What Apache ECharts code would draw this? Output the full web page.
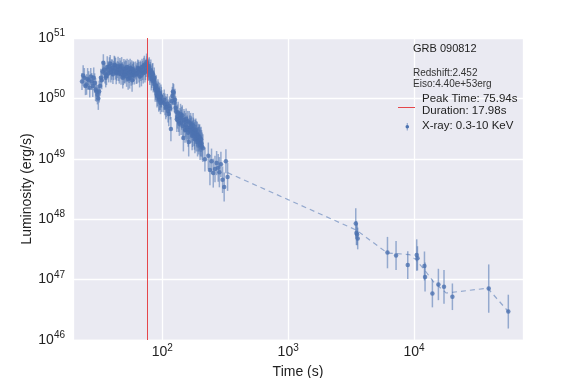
<!DOCTYPE html>
<html>
<head>
<meta charset="utf-8">
<script src="https://cdn.jsdelivr.net/npm/echarts@6/dist/echarts.min.js"></script>
<style>
  html, body { margin: 0; padding: 0; background: #fff; }
  #chart { width: 581px; height: 378px; }
</style>
</head>
<body>
<div id="chart"></div>
<script>
// light curve points (time in s, luminosity in erg/s, error in dex)
const time = [
  23, 24, 25, 26, 27, 28, 29, 30, 31, 32, 33, 34, 35, 36, 37, 38, 39, 40, 41, 42,
  43, 44, 45, 46, 47, 48, 49, 50, 51, 52, 53, 54, 55, 56, 57, 58, 59, 60,
  61.5, 63, 64.5, 66, 67.5, 69, 70.5, 72, 73.5, 75, 76.5, 78, 79.5, 81, 82.5, 84,
  85.5, 87, 88.5, 90, 91.5, 93, 94.5, 96, 97.5, 99,
  102, 105, 108, 111, 114, 117, 120, 123, 126, 129, 132, 135, 138, 141, 144, 147,
  150, 153, 156, 159, 162, 165, 168, 171, 174, 177, 180, 183, 186, 189, 192, 195,
  198, 201, 205, 210,
  218, 232, 239, 246, 254, 262, 270, 278, 284, 292, 301, 310, 320, 330,
  3443, 3485, 3530, 3567, 6150, 7197, 8913, 10500, 10640, 12100, 12230, 13990,
  15610, 17300, 20170, 39200, 56100,
  // interleaved bins of the bright part
  23.5, 24.5, 25.5, 26.5, 27.5, 28.5, 29.5, 30.5, 31.5, 32.5, 33.5, 34.5, 35.5,
  36.5, 37.5, 38.5, 39.5, 40.5, 41.5, 42.5, 43.5, 44.5, 45.5, 46.5, 47.5, 48.5,
  49.5, 50.5, 51.5, 52.5, 53.5, 54.5, 55.5, 56.5, 57.5, 58.5, 59.5,
  62.25, 63.75, 65.25, 66.75, 68.25, 69.75, 71.25, 72.75, 74.25, 75.75, 77.25,
  78.75, 80.25, 81.75, 83.25, 84.75, 86.25, 87.75, 89.25, 90.75, 92.25, 93.75,
  95.25, 96.75, 98.25,
  103.5, 106.5, 109.5, 112.5, 115.5, 118.5, 121.5, 124.5, 127.5, 130.5, 133.5,
  136.5, 139.5, 142.5, 145.5, 148.5, 151.5, 154.5, 157.5, 160.5, 163.5, 166.5,
  169.5, 172.5, 175.5, 178.5, 181.5, 184.5, 187.5, 190.5, 193.5, 196.5, 199.5,
  203, 207
];
const lum = [
  1.9e50, 2.2e50, 1.7e50, 2.0e50, 2.3e50, 1.6e50, 1.8e50, 1.3e50, 1.0e50, 1.6e50,
  2.0e50, 3.9e50, 2.6e50, 2.4e50, 3.0e50, 3.4e50, 2.7e50, 3.2e50, 2.9e50, 3.5e50,
  2.6e50, 3.0e50, 2.8e50, 3.3e50, 2.5e50, 2.9e50, 2.4e50, 2.7e50, 3.1e50, 2.3e50,
  2.6e50, 3.0e50, 2.2e50, 2.8e50, 3.1e50, 2.5e50, 2.7e50, 2.4e50,
  2.9e50, 2.6e50, 3.1e50, 2.3e50, 2.8e50, 3.3e50, 2.6e50, 3.6e50, 2.9e50, 4.0e50,
  3.3e50, 3.0e50, 2.4e50, 2.9e50, 2.2e50, 2.5e50, 2.0e50, 1.7e50, 1.5e50, 1.3e50,
  1.15e50, 1.25e50, 1.0e50, 9.5e49, 1.1e50, 9.0e49,
  8.5e49, 8.0e49, 7.2e49, 6.2e49, 7.5e49, 3.1e49, 1.1e50, 1.25e50, 9.5e49, 6.0e49,
  5.0e49, 4.2e49, 4.8e49, 4.0e49, 5.2e49, 2.2e49, 4.1e49, 3.6e49, 3.0e49, 4.2e49,
  1.9e49, 3.3e49, 3.8e49, 3.0e49, 2.6e49, 3.1e49, 2.4e49, 2.8e49, 2.2e49, 2.5e49,
  2.1e49, 2.0e49, 2.3e49, 1.9e49, 1.8e49, 1.5e49,
  9.8e48, 1.12e49, 6.5e48, 9.1e48, 5.8e48, 6.8e48, 8.5e48, 7.1e48, 6.0e48, 8.1e48,
  4.5e48, 3.4e48, 9.1e48, 5.0e48,
  8.5e47, 5.9e47, 5.6e47, 4.8e47, 2.8e47, 2.5e47, 1.74e47, 2.55e47, 2.25e47, 1.68e47,
  1.1e47, 5.9e46, 8.3e46, 7.6e46, 5.2e46, 7.1e46, 2.95e46,
  2.4e50, 1.6e50, 2.1e50, 1.5e50, 1.9e50, 2.2e50, 1.4e50, 1.15e50, 1.3e50, 2.2e50,
  2.8e50, 3.0e50, 2.2e50, 3.3e50, 2.6e50, 3.8e50, 3.0e50, 2.5e50, 3.6e50, 3.1e50,
  2.7e50, 3.4e50, 2.6e50, 3.0e50, 3.5e50, 2.2e50, 3.1e50, 2.5e50, 2.8e50, 3.3e50,
  2.1e50, 2.6e50, 3.2e50, 2.4e50, 2.0e50, 3.0e50, 2.8e50,
  2.5e50, 3.2e50, 2.7e50, 3.0e50, 2.4e50, 2.9e50, 3.4e50, 2.7e50, 3.2e50, 3.6e50,
  2.8e50, 3.4e50, 2.7e50, 2.1e50, 2.6e50, 1.9e50, 2.2e50, 1.4e50, 1.6e50, 1.1e50,
  1.4e50, 9.5e49, 1.2e50, 8.5e49, 1.05e50,
  9.5e49, 7.0e49, 8.2e49, 5.5e49, 6.8e49, 9.0e49, 1.3e50, 8.5e49, 7.0e49, 4.5e49,
  5.8e49, 3.8e49, 5.5e49, 4.7e49, 3.5e49, 4.4e49, 3.0e49, 4.6e49, 3.3e49, 2.7e49,
  4.0e49, 2.9e49, 3.4e49, 2.4e49, 3.6e49, 2.7e49, 2.1e49, 3.0e49, 2.6e49, 1.9e49,
  2.4e49, 2.2e49, 1.7e49, 2.1e49, 1.6e49
];
const errDex = [
  0.14, 0.16, 0.17, 0.15, 0.14, 0.18, 0.16, 0.17, 0.19, 0.16, 0.15, 0.14, 0.17, 0.16,
  0.14, 0.15, 0.17, 0.14, 0.16, 0.15, 0.18, 0.14, 0.16, 0.15, 0.17, 0.14, 0.16, 0.18,
  0.15, 0.17, 0.14, 0.16, 0.18, 0.15, 0.14, 0.17, 0.16, 0.15,
  0.15, 0.17, 0.14, 0.18, 0.16, 0.14, 0.17, 0.15, 0.16, 0.14, 0.15, 0.17, 0.16, 0.18,
  0.17, 0.19, 0.16, 0.18, 0.2, 0.17, 0.19, 0.18, 0.2, 0.17, 0.19, 0.18,
  0.16, 0.18, 0.17, 0.19, 0.16, 0.2, 0.15, 0.14, 0.18, 0.17, 0.2, 0.18, 0.16, 0.21,
  0.17, 0.22, 0.18, 0.2, 0.19, 0.17, 0.24, 0.2, 0.18, 0.21, 0.22, 0.19, 0.23, 0.2,
  0.22, 0.21, 0.2, 0.23, 0.21, 0.24, 0.22, 0.23,
  0.2, 0.22, 0.25, 0.21, 0.24, 0.22, 0.2, 0.23, 0.25, 0.21, 0.22, 0.24, 0.2, 0.23,
  0.25, 0.2, 0.18, 0.18, 0.26, 0.24, 0.23, 0.26, 0.2, 0.24, 0.24, 0.23, 0.26, 0.28,
  0.22, 0.4, 0.28,
  0.17, 0.15, 0.18, 0.16, 0.14, 0.17, 0.19, 0.16, 0.18, 0.15, 0.17, 0.14, 0.16, 0.18,
  0.15, 0.14, 0.17, 0.16, 0.15, 0.18, 0.14, 0.16, 0.17, 0.15, 0.14, 0.18, 0.16, 0.15,
  0.17, 0.14, 0.18, 0.16, 0.15, 0.17, 0.19, 0.14, 0.16,
  0.16, 0.14, 0.17, 0.15, 0.18, 0.16, 0.14, 0.17, 0.15, 0.14, 0.16, 0.15, 0.17, 0.19,
  0.16, 0.18, 0.17, 0.2, 0.18, 0.19, 0.17, 0.2, 0.18, 0.19, 0.17,
  0.17, 0.19, 0.16, 0.2, 0.18, 0.17, 0.14, 0.16, 0.19, 0.21, 0.18, 0.2, 0.17, 0.19,
  0.22, 0.18, 0.21, 0.17, 0.2, 0.23, 0.19, 0.21, 0.18, 0.24, 0.2, 0.22, 0.23, 0.19,
  0.21, 0.24, 0.2, 0.22, 0.25, 0.21, 0.23
];

// dashed connecting line
const fitTime = [330, 3480, 6150, 9200, 10400, 12100, 14200, 18000, 38500, 56100];
const fitLum = [5.9e48, 6.6e47, 2.75e47, 2.6e47, 2.1e47, 1.45e47, 9.3e46, 6.0e46, 7.2e46, 2.95e46];

const peakTime = 75.94;
const infoLines = ['Redshift:2.452', 'Eiso:4.40e+53erg'];

const blue = '#4C72B0';
const font = '"Liberation Sans", Arial, sans-serif';

const points = time.map((t, i) => [t, lum[i]]);
const bars = time.map((t, i) => [t, lum[i] / Math.pow(10, errDex[i]), lum[i] * Math.pow(10, errDex[i])]);
const fitLine = fitTime.map((t, i) => [t, fitLum[i]]);

const powLabel = v => '{b|10}{s|' + Math.round(Math.log10(v)) + '}';
const labelRich = {
  b: { fontSize: 14, fontFamily: font, color: '#222' },
  s: { fontSize: 10, fontFamily: font, color: '#222', padding: [0, 0, 9, 0] }
};

const chart = echarts.init(document.getElementById('chart'));

chart.setOption({
  backgroundColor: '#fff',
  animation: false,
  grid: {
    left: 73, right: 58, top: 38, bottom: 38,
    outerBoundsMode: 'none',
    containLabel: false,
    show: true, backgroundColor: '#EAEAF2', borderWidth: 0
  },
  xAxis: {
    type: 'log',
    logBase: 10,
    min: 19.51,
    max: 73400,
    name: 'Time (s)',
    nameLocation: 'middle',
    nameGap: 25,
    nameMoveOverlap: false,
    nameTextStyle: { fontSize: 14, fontFamily: font, color: '#222' },
    axisLine: { show: false },
    axisTick: { show: false },
    splitLine: { show: true, lineStyle: { color: '#fff', width: 1.3 } },
    axisLabel: {
      margin: 3,
      showMinLabel: false,
      showMaxLabel: false,
      formatter: powLabel,
      rich: labelRich
    }
  },
  yAxis: {
    type: 'log',
    logBase: 10,
    min: 1e46,
    max: 1e51,
    name: 'Luminosity (erg/s)',
    nameLocation: 'middle',
    nameGap: 39,
    nameMoveOverlap: false,
    nameTextStyle: { fontSize: 14, fontFamily: font, color: '#222' },
    axisLine: { show: false },
    axisTick: { show: false },
    splitLine: { show: true, lineStyle: { color: '#fff', width: 1.3 } },
    axisLabel: {
      margin: 8,
      formatter: powLabel,
      rich: labelRich
    }
  },
  series: [
    {
      name: 'fit',
      type: 'line',
      data: fitLine,
      symbol: 'none',
      lineStyle: { color: 'rgba(76,114,176,0.55)', width: 1.2, type: [5, 4] },
      z: 1
    },
    {
      name: 'errors',
      type: 'custom',
      data: bars,
      encode: { x: 0, y: [1, 2] },
      renderItem: (params, api) => {
        const lo = api.coord([api.value(0), api.value(1)]);
        const hi = api.coord([api.value(0), api.value(2)]);
        return {
          type: 'line',
          shape: { x1: lo[0], y1: lo[1], x2: hi[0], y2: hi[1] },
          style: { stroke: 'rgba(76,114,176,0.55)', lineWidth: 1.5 }
        };
      },
      z: 2
    },
    {
      name: 'X-ray: 0.3-10 KeV',
      type: 'scatter',
      data: points,
      symbolSize: 4.5,
      itemStyle: { color: blue },
      z: 3,
      markLine: {
        symbol: 'none',
        silent: true,
        label: { show: false },
        lineStyle: { color: '#E5474B', width: 1, type: 'solid' },
        data: [{ xAxis: peakTime }]
      }
    }
  ],
  graphic: [
    { type: 'text', z: 100, left: 413, top: 43, style: { text: 'GRB 090812', fontSize: 11, fontFamily: font, fill: '#222' } },
    { type: 'text', z: 100, left: 413, top: 68, style: { text: infoLines.join('\n'), fontSize: 10, lineHeight: 11, fontFamily: font, fill: '#333' } },
    { type: 'text', z: 100, left: 422, top: 93, style: { text: 'Peak Time: ' + peakTime + 's\nDuration: 17.98s', fontSize: 11.5, lineHeight: 11.5, fontFamily: font, fill: '#222' } },
    { type: 'line', z: 100, shape: { x1: 398, y1: 107.5, x2: 415, y2: 107.5 }, style: { stroke: '#E5474B', lineWidth: 1 } },
    { type: 'text', z: 100, left: 422, top: 120, style: { text: 'X-ray: 0.3-10 KeV', fontSize: 11.5, fontFamily: font, fill: '#222' } },
    { type: 'line', z: 100, shape: { x1: 407.3, y1: 123, x2: 407.3, y2: 130.5 }, style: { stroke: 'rgba(76,114,176,0.55)', lineWidth: 1.2 } },
    { type: 'circle', z: 100, shape: { cx: 407.3, cy: 126.7, r: 1.8 }, style: { fill: blue } }
  ]
});
</script>
</body>
</html>
